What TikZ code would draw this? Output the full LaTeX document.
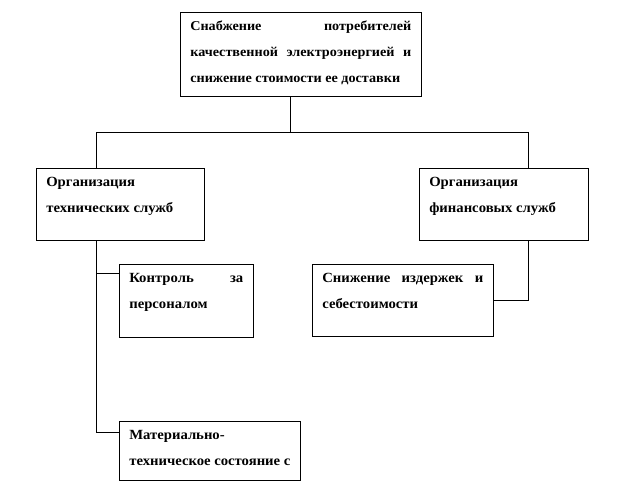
\documentclass[tikz,border=0pt]{standalone}
\usepackage{fontspec}
\setmainfont{Liberation Serif}[FakeStretch=1.05]
\usetikzlibrary{positioning,calc}

\newcommand\boxtext[3]{\parbox[b][#2][t]{#1}{\hyphenpenalty=10000\rule{0pt}{18pt}#3}}

\begin{document}
\begin{tikzpicture}[
    x=1pt, y=-1pt,
    font=\bfseries\fontsize{14}{26}\selectfont,
    box/.style={draw, line width=0.6pt, anchor=north west, inner xsep=10pt, inner ysep=0pt, fill=white},
    link/.style={line width=0.6pt},
  ]
    \useasboundingbox (0,0) rectangle (636,492);

    % Goal
    \node[box, font=\bfseries\fontsize{13.5}{26}\selectfont] (goal) at (180,12)
        {\boxtext{221pt}{84pt}{Снабжение потребителей\linebreak качественной электроэнергией и\linebreak снижение стоимости ее доставки}};

    % Services
    \node[box] (tech) at (36,168)
        {\boxtext{148pt}{72pt}{Организация\newline технических служб}};
    \node[box] (fin) at (419,168)
        {\boxtext{149pt}{72pt}{Организация\newline финансовых служб}};

    % Tasks
    \node[box] (ctrl) at (119,264)
        {\boxtext{114pt}{73pt}{Контроль за\linebreak персоналом}};
    \node[box] (cost) at (312,264)
        {\boxtext{161pt}{72pt}{Снижение издержек и\linebreak себестоимости}};
    \node[box] (mat) at (119,421)
        {\boxtext{161pt}{59pt}{Материально-\newline техническое состояние с}};

    % Bus
    \coordinate (busL) at (96,132);
    \coordinate (busM) at (290,132);
    \coordinate (busR) at (528,132);
    \coordinate (ctrlin) at (96,273);
    \coordinate (matin) at (96,432);

    % Links
    \draw[link] (busM |- goal.south) -- (busM);
    \draw[link] (busL) -- (busR);
    \draw[link] (busL) -- (busL |- tech.north);
    \draw[link] (busR) -- (busR |- fin.north);
    \draw[link] (busL |- tech.south) -- (matin) -- (matin -| mat.west);
    \draw[link] (ctrlin) -- (ctrlin -| ctrl.west);
    \draw[link] (busR |- fin.south) |- (cost.east);
  \end{tikzpicture}
\end{document}
